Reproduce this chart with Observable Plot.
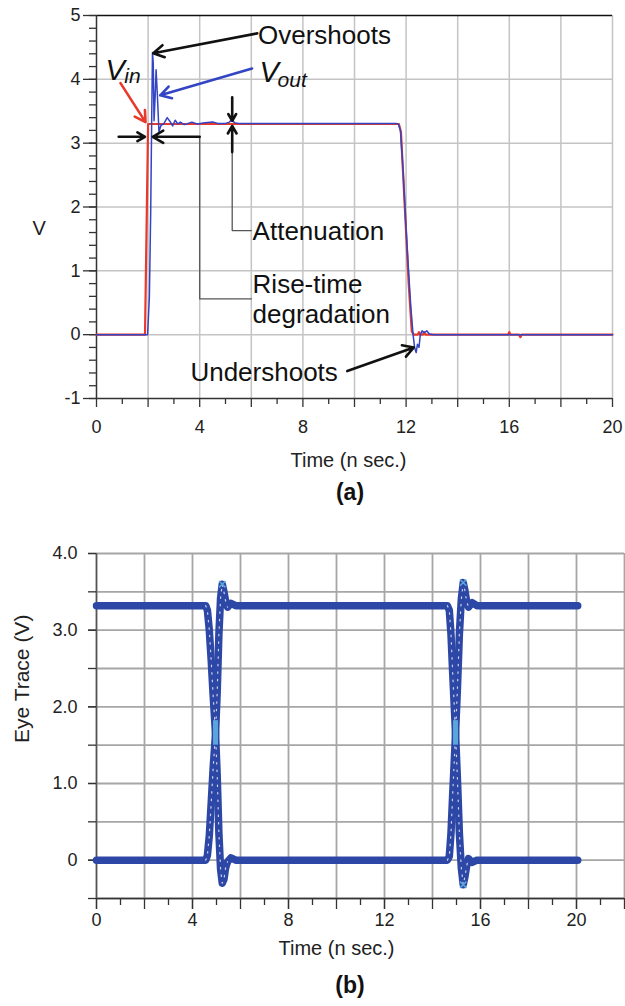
<!DOCTYPE html>
<html><head><meta charset="utf-8">
<script src="https://cdn.jsdelivr.net/npm/d3@7"></script>
<script src="https://cdn.jsdelivr.net/npm/@observablehq/plot@0.6"></script>
<style>
body{margin:0;background:#fff;font-family:"Liberation Sans",Arial,Helvetica,sans-serif;}
#wrap{position:relative;width:625px;height:1006px;overflow:hidden;background:#fff;}
#a{position:absolute;left:0;top:0;}
#b{position:absolute;left:0;top:520px;}
.cap{position:absolute;left:250px;width:200px;text-align:center;font-weight:bold;font-size:23px;line-height:28px;color:#111;}
</style></head><body>
<div id="wrap">
<div id="a"></div>
<div class="cap" style="top:478px">(a)</div>
<div id="b"></div>
<div class="cap" style="top:971px">(b)</div>
</div>
<script>
// ---------- (a) data ----------
const vinTime = [0, 1.88, 2.0, 11.72, 11.8, 11.95, 12.1, 12.22, 12.3, 12.45, 12.5, 12.55, 12.65, 12.7, 12.75, 12.85, 15.95, 16.0, 16.05, 16.38, 16.43, 16.48, 20];
const vinVolt = [0, 0, 3.3, 3.3, 3.18, 2.0, 0.8, 0.05, 0, 0, 0.04, 0, 0, 0.04, 0, 0, 0, 0.04, 0, 0, -0.04, 0, 0];
const voutTime = [0, 1.98, 2.05, 2.1, 2.14, 2.17, 2.2, 2.23, 2.27, 2.31, 2.36, 2.42, 2.5, 2.6, 2.74, 2.85, 2.95, 3.05, 3.15, 3.25, 3.4, 3.55, 3.7, 3.9, 4.2, 4.5, 4.7, 5.0, 5.15, 5.25, 5.35, 5.5, 11.6, 11.7, 11.78, 11.88, 11.98, 12.08, 12.18, 12.27, 12.33, 12.39, 12.44, 12.5, 12.55, 12.62, 12.7, 12.8, 12.9, 13.05, 20];
const voutVolt = [0, 0, 0.6, 1.9, 3.4, 4.42, 4.25, 3.35, 3.7, 4.15, 3.75, 3.18, 3.28, 3.3, 3.4, 3.34, 3.27, 3.36, 3.3, 3.33, 3.29, 3.31, 3.33, 3.3, 3.32, 3.33, 3.31, 3.31, 3.33, 3.37, 3.32, 3.31, 3.31, 3.3, 3.2, 2.6, 1.8, 1.1, 0.45, 0.0, -0.2, -0.28, -0.15, -0.2, 0.0, 0.06, 0.03, 0.06, 0.01, 0, 0];
const aYMajor = [-1, 0, 1, 2, 3, 4, 5];
const aXLabels = [0, 4, 8, 12, 16, 20];
const aXMid = [2, 6, 10, 14, 18];
const aXGrid = [2, 4, 6, 8, 10, 12, 14, 16, 18, 20];
const aYGrid = [0, 1, 2, 3, 4];

// annotation anchors (data units)
const arrowsA = [
  {x1: 6.23, y1: 4.72, x2: 2.2, y2: 4.41, kind: "k"},   // Overshoots
  {x1: 6.03, y1: 4.17, x2: 2.47, y2: 3.75, kind: "b"},  // Vout
  {x1: 0.93, y1: 3.94, x2: 1.9, y2: 3.33, kind: "r"},   // Vin
  {x1: 0.86, y1: 3.1, x2: 1.88, y2: 3.1, kind: "k"},    // rise-time, from left
  {x1: 4.0, y1: 3.1, x2: 2.18, y2: 3.1, kind: "k"},     // rise-time, from right
  {x1: 5.26, y1: 3.72, x2: 5.26, y2: 3.35, kind: "k"},  // attenuation down
  {x1: 5.26, y1: 2.86, x2: 5.26, y2: 3.27, kind: "k"},  // attenuation up
  {x1: 9.72, y1: -0.57, x2: 12.3, y2: -0.2, kind: "k"}  // Undershoots
];
const leaderRise = [[4.0, 3.1], [4.0, 0.56], [6.0, 0.56]];
const leaderAtt = [[5.26, 2.86], [5.26, 1.63], [6.0, 1.63]];

// ---------- (b) data ----------
const eyeTimeA = [0, 4.55, 4.62, 4.7, 4.78, 4.86, 4.96, 5.03, 5.1, 5.17, 5.24, 5.31, 5.38, 5.46, 5.6, 5.8, 14.62, 14.7, 14.77, 14.84, 14.9, 14.96, 15.04, 15.12, 15.2, 15.28, 15.35, 15.42, 15.5, 15.65, 15.85, 20.05];
const eyeVoltA = [3.32, 3.32, 3.26, 3.0, 2.6, 2.15, 1.65, 1.1, 0.35, -0.12, -0.3, -0.25, -0.1, -0.02, 0.03, 0, 0, 0.05, 0.35, 0.85, 1.25, 1.65, 2.25, 2.95, 3.4, 3.62, 3.52, 3.38, 3.3, 3.36, 3.32, 3.32];
const eyeTimeB = [0, 4.55, 4.62, 4.7, 4.78, 4.86, 4.96, 5.03, 5.1, 5.17, 5.24, 5.31, 5.38, 5.46, 5.6, 5.8, 14.62, 14.7, 14.77, 14.84, 14.9, 14.96, 15.04, 15.12, 15.2, 15.28, 15.35, 15.42, 15.5, 15.65, 15.85, 20.05];
const eyeVoltB = [0, 0, 0.06, 0.32, 0.75, 1.2, 1.65, 2.2, 2.95, 3.42, 3.6, 3.5, 3.38, 3.3, 3.35, 3.32, 3.32, 3.26, 2.95, 2.45, 2.05, 1.65, 1.05, 0.35, -0.1, -0.32, -0.22, -0.08, 0.02, -0.03, 0, 0];
const crossTime = [4.96, 14.96];
const peakTime = [5.24, 15.28, 15.28];
const peakVolt = [3.6, 3.62, -0.32];
const bYTicks = [-0.5, 0, 0.5, 1, 1.5, 2, 2.5, 3, 3.5, 4];
const bYLabels = [0, 1, 2, 3, 4];
const bXLabels = [0, 4, 8, 12, 16, 20];
const bXMajor = [0, 2, 4, 6, 8, 10, 12, 14, 16, 18, 20, 22];
const bXMinor = [1, 3, 5, 7, 9, 11, 13, 15, 17, 19, 21];

const RED = "#e8392b", BLUE = "#3344c4", EYE = "#2d47a6";
const FONT = "Liberation Sans, Arial, Helvetica, sans-serif";
const kindColor = {k: "#111", b: BLUE, r: RED};

const vinData = vinTime.map((t, i) => ({t, v: vinVolt[i]}));
const voutData = voutTime.map((t, i) => ({t, v: voutVolt[i]}));

const plotA = Plot.plot({
  width: 625, height: 475,
  marginTop: 15, marginLeft: 96, marginRight: 13, marginBottom: 77,
  x: {domain: [0, 20]},
  y: {domain: [-1, 5]},
  style: {fontFamily: FONT, fontSize: "18px", color: "#222", background: "white", overflow: "visible"},
  marks: [
    Plot.gridX({ticks: aXGrid, stroke: "#c4c4c4", strokeOpacity: 1, strokeWidth: 1.5}),
    Plot.gridY({ticks: aYGrid, stroke: "#c4c4c4", strokeOpacity: 1, strokeWidth: 1.5}),
    Plot.ruleY([5], {stroke: "#111", strokeWidth: 1.5}),
    Plot.ruleY([-1], {stroke: "#333", strokeWidth: 1.5}),
    Plot.ruleX([0], {stroke: "#333", strokeWidth: 1.5}),
    Plot.axisY({ticks: aYMajor, tickSize: 13, tickPadding: 3, tickFormat: d => String(d), label: null, stroke: "#333", strokeWidth: 1.3}),
    Plot.axisY({ticks: d3.range(-1, 5.001, 0.2), tickSize: 7, tickFormat: () => "", label: null, stroke: "#333", strokeWidth: 1.3}),
    Plot.axisX({ticks: aXLabels, tickSize: 9, tickPadding: 13, tickFormat: d => String(d), label: null, stroke: "#333", strokeWidth: 1.3}),
    Plot.axisX({ticks: aXMid, tickSize: 9, tickFormat: () => "", label: null, stroke: "#333", strokeWidth: 1.3}),
    Plot.axisX({ticks: d3.range(1, 20, 2), tickSize: 6, tickFormat: () => "", label: null, stroke: "#333", strokeWidth: 1.3}),
    Plot.line(vinData, {x: "t", y: "v", stroke: RED, strokeWidth: 2.2}),
    Plot.line(voutData, {x: "t", y: "v", stroke: BLUE, strokeWidth: 1.5}),
    Plot.line(leaderRise, {x: d => d[0], y: d => d[1], stroke: "#555", strokeWidth: 1.3}),
    Plot.line(leaderAtt, {x: d => d[0], y: d => d[1], stroke: "#555", strokeWidth: 1.3}),
    Plot.arrow(arrowsA, {x1: "x1", y1: "y1", x2: "x2", y2: "y2", stroke: d => kindColor[d.kind], strokeWidth: 2.6, headLength: 7}),
    Plot.text(["Overshoots"], {x: 6.26, y: 4.69, textAnchor: "start", lineAnchor: "middle", fontSize: 26, fill: "#111"}),
    Plot.text(["V"], {x: 0.35, y: 3.99, textAnchor: "start", lineAnchor: "bottom", fontSize: 29, fontStyle: "italic", fill: "#111"}),
    Plot.text(["in"], {x: 1.08, y: 3.94, textAnchor: "start", lineAnchor: "bottom", fontSize: 21, fontStyle: "italic", fill: "#111"}),
    Plot.text(["V"], {x: 6.32, y: 3.96, textAnchor: "start", lineAnchor: "bottom", fontSize: 29, fontStyle: "italic", fill: "#111"}),
    Plot.text(["out"], {x: 7.02, y: 3.88, textAnchor: "start", lineAnchor: "bottom", fontSize: 21, fontStyle: "italic", fill: "#111"}),
    Plot.text(["Attenuation"], {x: 6.05, y: 1.62, textAnchor: "start", lineAnchor: "middle", fontSize: 26, fill: "#111"}),
    Plot.text(["Rise-time\ndegradation"], {x: 6.05, y: 0.57, textAnchor: "start", lineAnchor: "middle", fontSize: 26, lineHeight: 1.15, fill: "#111"}),
    Plot.text(["Undershoots"], {x: 3.64, y: -0.6, textAnchor: "start", lineAnchor: "middle", fontSize: 26, fill: "#111"}),
    Plot.text(["Time (n sec.)"], {frameAnchor: "bottom", dy: 62, dx: -6, lineAnchor: "middle", fontSize: 20, fill: "#222"}),
    Plot.text(["V"], {frameAnchor: "left", dx: -64, dy: 22, lineAnchor: "middle", fontSize: 20, fill: "#222"})
  ]
});
document.getElementById("a").appendChild(plotA);

const eyeA = eyeTimeA.map((t, i) => ({t, v: eyeVoltA[i]}));
const eyeB = eyeTimeB.map((t, i) => ({t, v: eyeVoltB[i]}));
const isEdge = d => (d.t > 4.5 && d.t < 5.5) || (d.t > 14.55 && d.t < 15.55);
const edgeGroup = d => (d.t < 10 ? 1 : 2);
const peaks = peakTime.map((t, i) => ({t, v: peakVolt[i]}));

const plotB = Plot.plot({
  width: 625, height: 450,
  marginTop: 33, marginLeft: 96, marginRight: 1, marginBottom: 72,
  x: {domain: [0, 22]},
  y: {domain: [-0.5, 4]},
  style: {fontFamily: FONT, fontSize: "18px", color: "#222", background: "white", overflow: "visible"},
  marks: [
    Plot.gridX({ticks: bXMajor, stroke: "#a6a6a6", strokeOpacity: 1, strokeWidth: 1.8}),
    Plot.gridY({ticks: bYTicks, stroke: "#a6a6a6", strokeOpacity: 1, strokeWidth: 1.8}),
    Plot.ruleY([-0.5], {stroke: "#333", strokeWidth: 1.5}),
    Plot.ruleX([0], {stroke: "#555", strokeWidth: 1.5}),
    Plot.axisY({ticks: bYTicks, tickSize: 8, tickFormat: () => "", label: null, stroke: "#333", strokeWidth: 1.3}),
    Plot.axisY({ticks: bYLabels, tickSize: 8, tickPadding: 11, tickFormat: d => d === 0 ? "0" : d.toFixed(1), label: null, stroke: "#333", strokeWidth: 1.3}),
    Plot.axisX({ticks: bXMajor, tickSize: 11, tickFormat: () => "", label: null, stroke: "#333", strokeWidth: 1.3}),
    Plot.axisX({ticks: bXMinor, tickSize: 7, tickFormat: () => "", label: null, stroke: "#333", strokeWidth: 1.3}),
    Plot.axisX({ticks: bXLabels, tickSize: 11, tickPadding: 4, tickFormat: d => String(d), label: null, stroke: "#333", strokeWidth: 1.3}),
    Plot.line(eyeA, {x: "t", y: "v", stroke: EYE, strokeWidth: 7.5, strokeLinejoin: "round"}),
    Plot.line(eyeB, {x: "t", y: "v", stroke: EYE, strokeWidth: 7.5, strokeLinejoin: "round"}),
    Plot.line(eyeA.filter(isEdge), {x: "t", y: "v", z: edgeGroup, stroke: "white", strokeOpacity: 0.75, strokeWidth: 1.2, strokeDasharray: "1.5 6"}),
    Plot.line(eyeB.filter(isEdge), {x: "t", y: "v", z: edgeGroup, stroke: "white", strokeOpacity: 0.75, strokeWidth: 1.2, strokeDasharray: "1.5 6"}),
    Plot.ruleX(crossTime, {y1: 1.5, y2: 1.82, stroke: "#5aa6dc", strokeWidth: 5}),
    Plot.dot(peaks, {x: "t", y: "v", symbol: "times", r: 3, stroke: "#5aa6dc", strokeWidth: 1.5}),
    Plot.text(["Time (n sec.)"], {frameAnchor: "bottom", dy: 50, dx: -24, lineAnchor: "middle", fontSize: 20, fill: "#222"}),
    Plot.text(["Eye Trace (V)"], {frameAnchor: "left", dx: -74, dy: 17, rotate: -90, lineAnchor: "middle", fontSize: 21, fill: "#222"})
  ]
});
document.getElementById("b").appendChild(plotB);
</script>
</body></html>
